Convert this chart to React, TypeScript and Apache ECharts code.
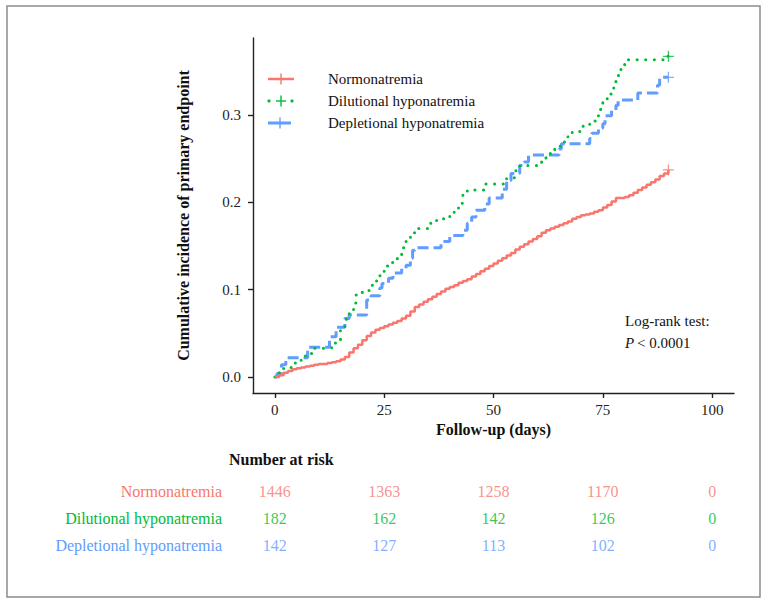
import React, { useEffect, useRef } from "react";
import * as echarts from "echarts";

const groups = ["Normonatremia", "Dilutional hyponatremia", "Depletional hyponatremia"];
const colors = ["#F8766D", "#00BA38", "#619CFF"];

const normoDays = [0,1,2,3,4,5,6,7,8,9,10,11,12,13,14,15,16,17,18,19,20,21,22,23,24,25,26,27,28,29,30,31,32,33,34,35,36,37,38,39,40,41,42,43,44,45,46,47,48,49,50,51,52,53,54,55,56,57,58,59,60,61,62,63,64,65,66,67,68,69,70,71,72,73,74,75,76,77,78,79,80,81,82,83,84,85,86,87,88,89,90];
const normoInc = [0,0.002,0.005,0.007,0.009,0.010,0.011,0.012,0.013,0.014,0.015,0.015,0.016,0.017,0.018,0.020,0.023,0.028,0.033,0.037,0.042,0.047,0.051,0.054,0.056,0.058,0.060,0.062,0.064,0.067,0.070,0.075,0.080,0.083,0.086,0.089,0.092,0.095,0.098,0.101,0.103,0.105,0.108,0.110,0.112,0.115,0.118,0.121,0.124,0.127,0.130,0.133,0.136,0.139,0.142,0.146,0.149,0.152,0.155,0.158,0.161,0.165,0.168,0.170,0.172,0.174,0.176,0.178,0.181,0.183,0.185,0.186,0.187,0.189,0.191,0.194,0.197,0.201,0.205,0.205,0.206,0.208,0.211,0.214,0.217,0.220,0.223,0.226,0.230,0.233,0.237];

const diluDays = [0,1,2,4,6,7,9,13,15,16,17,18,18.5,20,22,23,24,25,26,28,29,30,31,32,35,37,40,41,42,43,44,48,53,55,56,61,62,63,64,66,67,68,70,72,74,74.5,75,76,77,77.5,78,79,80,89,90];
const diluInc = [0,0.005,0.011,0.016,0.022,0.027,0.033,0.039,0.055,0.066,0.074,0.083,0.094,0.099,0.105,0.110,0.116,0.127,0.131,0.139,0.148,0.156,0.165,0.170,0.176,0.181,0.187,0.192,0.199,0.210,0.214,0.221,0.228,0.236,0.242,0.247,0.253,0.258,0.264,0.269,0.275,0.281,0.287,0.293,0.300,0.309,0.316,0.324,0.330,0.337,0.345,0.352,0.363,0.367,0.367];

const deplDays = [0,0.5,1.5,2.5,7.5,12.5,14,16,17,21,22,24,24.5,26,27,29,30,31,31.5,32,38,40,43,44,45,46,48,49,52,53,54,56,57,58,65,65.5,72,72.5,74,75,75.5,77,78,78.5,83,87.5,88,90];
const deplInc = [0,0.004,0.014,0.022,0.034,0.046,0.057,0.067,0.071,0.088,0.093,0.102,0.107,0.113,0.119,0.124,0.128,0.136,0.145,0.148,0.155,0.162,0.168,0.176,0.183,0.191,0.198,0.205,0.215,0.225,0.233,0.242,0.246,0.254,0.261,0.267,0.273,0.279,0.285,0.290,0.299,0.305,0.311,0.317,0.325,0.334,0.343,0.343];

const xTicks = [0, 25, 50, 75, 100];
const yTicks = [0, 0.1, 0.2, 0.3];

const riskTimes = [0, 25, 50, 75, 100];
const riskNormo = [1446, 1363, 1258, 1170, 0];
const riskDilu = [182, 162, 142, 126, 0];
const riskDepl = [142, 127, 113, 102, 0];

const FONT = "'Liberation Serif', 'Times New Roman', serif";

const pairs = (d: number[], v: number[]) => d.map((t, i) => [t, v[i]]);

export default function App() {
  const ref = useRef<HTMLDivElement>(null);
  useEffect(() => {
    document.body.style.margin = "0";
    const chart = echarts.init(ref.current!, null, { renderer: "svg" });
    const curves = [pairs(normoDays, normoInc), pairs(diluDays, diluInc), pairs(deplDays, deplInc)];
    const risks = [riskNormo, riskDilu, riskDepl];
    const lineStyles: any[] = [
      { width: 2.5, type: "solid" },
      { width: 3, type: [0.1, 8.5], cap: "round" },
      { width: 3, type: [11, 5] },
    ];
    const plus = "path://M5.3,0H6.7V5.3H12V6.7H6.7V12H5.3V6.7H0V5.3H5.3Z";
    const axisLineStyle = { color: "#222", width: 1.4 };

    const series: any[] = [];
    curves.forEach((c, i) => {
      series.push({
        type: "line",
        name: groups[i],
        xAxisIndex: 0,
        yAxisIndex: 0,
        data: c,
        step: "end",
        showSymbol: false,
        symbol: "none",
        lineStyle: { color: colors[i], ...lineStyles[i] },
        z: 3 - i,
      });
      series.push({
        type: "scatter",
        xAxisIndex: 0,
        yAxisIndex: 0,
        data: [c[c.length - 1]],
        symbol: plus,
        symbolSize: 11,
        itemStyle: { color: colors[i] },
      });
    });
    risks.forEach((r, i) => {
      series.push({
        type: "scatter",
        xAxisIndex: 1,
        yAxisIndex: 1,
        data: riskTimes.map((t, j) => [t, i, r[j]]),
        symbolSize: 1,
        itemStyle: { color: "rgba(0,0,0,0)" },
        label: {
          show: true,
          position: "inside",
          formatter: (p: any) => String(p.value[2]),
          color: colors[i],
          fontSize: 16,
          fontFamily: FONT,
        },
      });
    });

    const legendG: any[] = [];
    const ly = [79, 101, 123];
    legendG.push({ type: "line", shape: { x1: 268, y1: ly[0], x2: 294, y2: ly[0] }, style: { stroke: colors[0], lineWidth: 2.5 } });
    legendG.push({ type: "circle", shape: { cx: 269, cy: ly[1], r: 1.6 }, style: { fill: colors[1] } });
    legendG.push({ type: "circle", shape: { cx: 292, cy: ly[1], r: 1.6 }, style: { fill: colors[1] } });
    legendG.push({ type: "line", shape: { x1: 276, y1: ly[1], x2: 286, y2: ly[1] }, style: { stroke: colors[1], lineWidth: 1.4 } });
    legendG.push({ type: "line", shape: { x1: 268, y1: ly[2], x2: 291, y2: ly[2] }, style: { stroke: colors[2], lineWidth: 3 } });
    [281, 281, 280].forEach((x, i) => {
      legendG.push({ type: "line", shape: { x1: x, y1: ly[i] - 5.5, x2: x, y2: ly[i] + 5.5 }, style: { stroke: colors[i], lineWidth: 1.4 } });
      legendG.push({ type: "text", x: 328, y: ly[i], style: { text: groups[i], font: `15px ${FONT}`, fill: "#111", textVerticalAlign: "middle" } });
    });

    const option: any = {
      animation: false,
      textStyle: { fontFamily: FONT },
      grid: [
        { left: 253, right: 33, top: 38, bottom: 212 },
        { left: 253, right: 33, top: 478, height: 81 },
      ],
      xAxis: [
        {
          type: "value",
          gridIndex: 0,
          min: -5,
          max: 105,
          name: "Follow-up (days)",
          nameLocation: "middle",
          nameGap: 28,
          nameTextStyle: { fontSize: 16, fontWeight: "bold", color: "#111", fontFamily: FONT },
          axisLine: { show: true, onZero: false, lineStyle: axisLineStyle },
          axisTick: { show: true, length: 5, lineStyle: axisLineStyle, customValues: xTicks },
          axisLabel: { fontSize: 15, color: "#222", margin: 9, fontFamily: FONT, customValues: xTicks },
          splitLine: { show: false },
        },
        { type: "value", gridIndex: 1, min: -5, max: 105, show: false },
      ],
      yAxis: [
        {
          type: "value",
          gridIndex: 0,
          min: -0.0183,
          max: 0.388,
          name: "Cumulative incidence of primary endpoint",
          nameLocation: "middle",
          nameGap: 62,
          nameTextStyle: { fontSize: 16, fontWeight: "bold", color: "#111", fontFamily: FONT },
          axisLine: { show: true, onZero: false, lineStyle: axisLineStyle },
          axisTick: { show: true, length: 5, lineStyle: axisLineStyle, customValues: yTicks },
          axisLabel: {
            fontSize: 15,
            color: "#222",
            margin: 12,
            fontFamily: FONT,
            customValues: yTicks,
            formatter: (v: number) => v.toFixed(1),
          },
          splitLine: { show: false },
        },
        {
          type: "category",
          gridIndex: 1,
          inverse: true,
          data: groups,
          axisLine: { show: false, onZero: false },
          axisTick: { show: false },
          splitLine: { show: false },
          axisLabel: {
            fontSize: 16,
            fontFamily: FONT,
            margin: 31,
            color: (_v: any, idx: number) => colors[idx],
          },
        },
      ],
      series,
      graphic: [
        { type: "rect", shape: { x: 7, y: 6, width: 753, height: 591 }, style: { fill: "none", stroke: "#8c8c8c", lineWidth: 1.5 } },
        ...legendG,
        { type: "text", x: 625, y: 321, style: { text: "Log-rank test:", font: `15px ${FONT}`, fill: "#111", textVerticalAlign: "middle" } },
        { type: "text", x: 625, y: 343, style: { text: "P", font: `italic 15px ${FONT}`, fill: "#111", textVerticalAlign: "middle" } },
        { type: "text", x: 637, y: 343, style: { text: "< 0.0001", font: `15px ${FONT}`, fill: "#111", textVerticalAlign: "middle" } },
        { type: "text", x: 229, y: 459, style: { text: "Number at risk", font: `bold 16px ${FONT}`, fill: "#111", textVerticalAlign: "middle" } },
      ],
    };
    chart.setOption(option);
    return () => chart.dispose();
  }, []);
  return <div ref={ref} style={{ width: 767, height: 605 }} />;
}
